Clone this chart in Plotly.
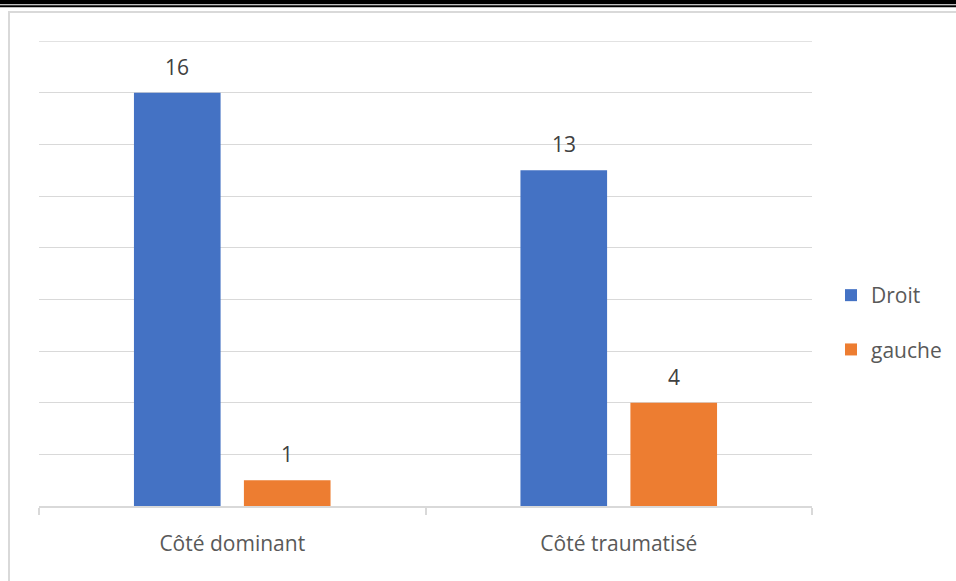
import plotly.graph_objects as go

# Data
categories = ["Côté dominant", "Côté traumatisé"]
series_names = ["Droit", "gauche"]
droit = [16, 13]
gauche = [1, 4]
series_colors = ["#4472C4", "#ED7D31"]
y_max = 18

W, H = 956, 581
M_L, M_R, M_T, M_B = 39, 144, 41, 75
PLOT_W = W - M_L - M_R
PLOT_H = H - M_T - M_B


def px_x(px):
    return (px - M_L) / PLOT_W


def px_y(py):
    return (H - M_B - py) / PLOT_H


FONT = "Open Sans"
GRID = "#d9d9d9"

fig = go.Figure()
for name, vals, col, grp in zip(series_names, [droit, gauche], series_colors, ["a", "b"]):
    fig.add_trace(go.Bar(
        x=categories, y=vals, name=name, marker_color=col,
        marker_line_width=0, legendgroup=grp,
    ))

# value labels above each bar
bar_shift = 55
for vals, sh in zip([droit, gauche], [-bar_shift, bar_shift]):
    for c, v in zip(categories, vals):
        fig.add_annotation(
            x=c, y=v, xref="x", yref="y", text=str(v), showarrow=False,
            xshift=sh, yshift=26, yanchor="middle",
            font=dict(family=FONT, size=21, color="#404040"),
        )

shapes = [
    # double rule at the top of the page
    dict(type="rect", xref="paper", yref="paper", x0=px_x(0), x1=px_x(W),
         y0=px_y(4.3), y1=px_y(0), fillcolor="black", line_width=0, layer="above"),
    dict(type="rect", xref="paper", yref="paper", x0=px_x(0), x1=px_x(W),
         y0=px_y(7.3), y1=px_y(5.3), fillcolor="black", line_width=0, layer="above"),
    # chart frame
    dict(type="line", xref="paper", yref="paper", x0=px_x(8), x1=px_x(W + 5),
         y0=px_y(12), y1=px_y(12), line=dict(color=GRID, width=2)),
    dict(type="line", xref="paper", yref="paper", x0=px_x(9), x1=px_x(9),
         y0=px_y(11), y1=px_y(H + 5), line=dict(color=GRID, width=2)),
    # gridline at the top of the value axis
    dict(type="line", xref="paper", yref="y", x0=0, x1=1, y0=y_max, y1=y_max,
         line=dict(color=GRID, width=1.3), layer="below"),
]

fig.update_layout(
    width=W, height=H,
    margin=dict(l=M_L, r=M_R, t=M_T, b=M_B, pad=0, autoexpand=False),
    paper_bgcolor="white", plot_bgcolor="white",
    barmode="group", bargap=0.431, bargroupgap=0.212,
    shapes=shapes,
    showlegend=True,
    legend=dict(
        x=px_x(831), y=px_y(275), xanchor="left", yanchor="top",
        traceorder="grouped", tracegroupgap=24,
        font=dict(family=FONT, size=21, color="#595959"),
        bgcolor="rgba(0,0,0,0)",
    ),
)
fig.update_xaxes(
    showline=True, linecolor=GRID, linewidth=1.5,
    ticks="outside", tickson="boundaries", ticklen=7, tickcolor=GRID, tickwidth=1.5,
    ticklabelstandoff=18,
    tickfont=dict(family=FONT, size=21, color="#595959"),
    showgrid=False,
)
fig.update_yaxes(
    range=[0, y_max], dtick=2, showgrid=True, gridcolor=GRID, gridwidth=1.3,
    showticklabels=False, zeroline=False, showline=False,
)

fig.write_html("out.html")
